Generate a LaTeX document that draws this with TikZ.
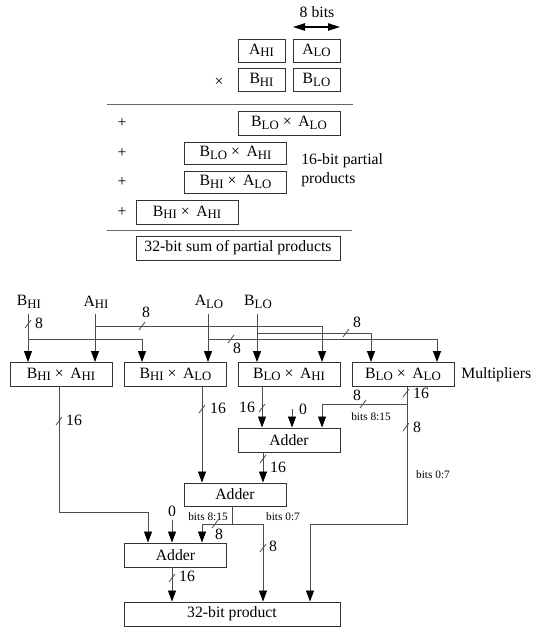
\documentclass[tikz,border=0pt]{standalone}
\usepackage{fontspec}
\setmainfont{Liberation Serif}
\usetikzlibrary{arrows.meta,calc}
\newcommand\sbs[1]{\raisebox{-0.32ex}{\fontsize{9.6}{10}\selectfont #1}}
\newcommand\mx{\kern3pt×\kern5pt}
\newcommand\busmark[2]{\draw[wire] (#1-3,#2+4) -- (#1+3,#2-4);}
\begin{document}
\begin{tikzpicture}[x=0.75pt,y=-0.75pt,
  font=\fontsize{11.8}{14}\selectfont,
  box/.style={draw=black!80, line width=0.7pt, minimum height=18pt, inner sep=0pt},
  wire/.style={draw=black!70, line width=0.6pt},
  arr/.style={wire, -{Triangle[length=8.25pt,width=6pt,color=black]}},
  small/.style={font=\fontsize{8.5}{10}\selectfont, inner sep=0pt},
  lbl/.style={inner sep=0pt},
  rule/.style={draw=black!60, line width=0.6pt}]
\useasboundingbox (0,0) rectangle (532,628);

% ---------- top: long multiplication ----------
\node[lbl] (eightbits) at (317,12) {8 bits};
\coordinate (dl) at (293,27);
\coordinate (dr) at (340,27);
\draw[line width=1.1pt, {Triangle[length=9pt,width=5.5pt]}-{Triangle[length=9pt,width=5.5pt]}] (dl) -- (dr);

\node[box, minimum width=35.25pt, minimum height=17.25pt] (tah) at (261.5,50.5) {A\sbs{HI}};
\node[box, minimum width=35.25pt, minimum height=17.25pt] (tal) at (316.5,50.5) {A\sbs{LO}};
\node[box, minimum width=35.25pt, minimum height=17.25pt] (tbh) at (261.5,80) {B\sbs{HI}};
\node[box, minimum width=35.25pt, minimum height=17.25pt] (tbl) at (316.5,80) {B\sbs{LO}};
\node[lbl] (times) at (219,82) {×};

\coordinate (r1a) at (107,104);
\coordinate (r1b) at (353,104);
\draw[rule] (r1a) -- (r1b);

\node[lbl] (p1) at (122,123) {+};
\node[box, minimum width=76.5pt] (pp1) at (289,123) {B\sbs{LO}\mx A\sbs{LO}};
\node[lbl] (p2) at (122,153) {+};
\node[box, minimum width=76pt, minimum height=16.5pt] (pp2) at (235.5,153) {B\sbs{LO}\mx A\sbs{HI}};
\node[lbl] (p3) at (122,182) {+};
\node[box, minimum width=76pt, minimum height=16.5pt] (pp3) at (235.5,182) {B\sbs{HI}\mx A\sbs{LO}};
\node[lbl] (p4) at (122,212) {+};
\node[box, minimum width=76.5pt] (pp4) at (187,212) {B\sbs{HI}\mx A\sbs{HI}};

\node[lbl, anchor=west] (pt1) at (301,161) {16-bit partial};
\node[lbl, anchor=west] (pt2) at (301,180) {products};

\coordinate (r2a) at (107,230);
\coordinate (r2b) at (352,230);
\draw[rule] (r2a) -- (r2b);

\node[box, minimum width=153pt] (sum) at (238,248) {32-bit sum of partial products};

% ---------- bottom: circuit ----------
\node[lbl] (bhi) at (29,302) {B\sbs{HI}};
\node[lbl] (ahi) at (96,302) {A\sbs{HI}};
\node[lbl] (alo) at (209,302) {A\sbs{LO}};
\node[lbl] (blo) at (258,302) {B\sbs{LO}};

\node[box, minimum width=76.5pt] (m1) at (61,374.5) {B\sbs{HI}\mx A\sbs{HI}};
\node[box, minimum width=77pt] (m2) at (175.5,374.5) {B\sbs{HI}\mx A\sbs{LO}};
\node[box, minimum width=76.5pt] (m3) at (289,374.5) {B\sbs{LO}\mx A\sbs{HI}};
\node[box, minimum width=76.5pt] (m4) at (403,374.5) {B\sbs{LO}\mx A\sbs{LO}};
\node[lbl, anchor=west] (mult) at (461,375) {Multipliers};

\node[box, minimum width=76.5pt] (a1) at (289,440) {Adder};
\node[box, minimum width=76.5pt, minimum height=17.25pt] (a2) at (235,494.5) {Adder};
\node[box, minimum width=77pt] (a3) at (175.5,555) {Adder};
\node[box, minimum width=162pt] (prod) at (232,614) {32-bit product};

% input coordinates
\coordinate (xbh) at (28,314);
\coordinate (xah) at (95,314);
\coordinate (xal) at (208,314);
\coordinate (xbl) at (257,314);
\coordinate (hb1) at (28,339);  \coordinate (hb2) at (142,339);
\coordinate (ha1) at (95,326);  \coordinate (ha2) at (322,326);
\coordinate (hl1) at (208,339); \coordinate (hl2) at (437,339);
\coordinate (hm1) at (257,333); \coordinate (hm2) at (371,333);

\draw[arr] (xbh) -- (xbh |- m1.north);
\draw[arr] (xah) -- (xah |- m1.north);
\draw[arr] (xal) -- (xal |- m2.north);
\draw[arr] (xbl) -- (xbl |- m3.north);
\draw[arr] (hb1) -- (hb2) -- (hb2 |- m2.north);
\draw[arr] (ha1) -- (ha2) -- (ha2 |- m3.north);
\draw[arr] (hl1) -- (hl2) -- (hl2 |- m4.north);
\draw[arr] (hm1) -- (hm2) -- (hm2 |- m4.north);

\busmark{28}{324}  \node[lbl] (n8a) at (39,323) {8};
\busmark{142}{326} \node[lbl] (n8b) at (146,312) {8};
\busmark{231}{339} \node[lbl] (n8c) at (237,348) {8};
\busmark{346}{333} \node[lbl] (n8d) at (357,322) {8};

% multiplier 1 output
\coordinate (o1) at (59,512); \coordinate (o1b) at (148,512);
\draw[arr] (m1.south -| o1) -- (o1) -- (o1b) -- (o1b |- a3.north);
\busmark{59}{421} \node[lbl] (n16a) at (74,420) {16};

% multiplier 2 output
\coordinate (o2) at (202,400);
\draw[arr] (m2.south -| o2) -- (o2 |- a2.north);
\busmark{202}{409} \node[lbl] (n16b) at (218,408) {16};

% multiplier 3 output
\coordinate (o3) at (262,400);
\draw[arr] (m3.south -| o3) -- (o3 |- a1.north);
\busmark{262}{408} \node[lbl] (n16c) at (247,407) {16};

% zero into adder 1
\coordinate (z1) at (292,409);
\draw[arr] (z1) -- (z1 |- a1.north);
\node[lbl] (zl1) at (303,409) {0};

% multiplier 4 output
\coordinate (o4) at (407,404); \coordinate (o4b) at (322,404);
\coordinate (o4c) at (407,524); \coordinate (o4d) at (310,524);
\draw[arr] (m4.south -| o4) -- (o4c) -- (o4d) -- (o4d |- prod.north);
\draw[arr] (o4) -- (o4b) -- (o4b |- a1.north);
\busmark{406}{393} \node[lbl] (n16d) at (421,393) {16};
\busmark{406}{427} \node[lbl] (n8e) at (417,427) {8};
\busmark{363}{404} \node[lbl] (n8f) at (357,395) {8};
\node[small] (b815a) at (371,417) {bits 8:15};
\node[small] (b07a) at (433,475) {bits 0:7};

% adder 1 -> adder 2
\coordinate (o5) at (263,470);
\draw[arr] (a1.south -| o5) -- (o5 |- a2.north);
\busmark{263}{459} \node[lbl] (n16e) at (278,467) {16};

% adder 2 outputs
\coordinate (o6) at (232,524); \coordinate (o6l) at (202,524); \coordinate (o6r) at (263,524);
\draw[wire] (a2.south -| o6) -- (o6);
\draw[arr] (o6) -- (o6l) -- (o6l |- a3.north);
\draw[arr] (o6) -- (o6r) -- (o6r |- prod.north);
\busmark{215}{524} \node[lbl] (n8g) at (219,534) {8};
\busmark{263}{548} \node[lbl] (n8h) at (273,546) {8};
\node[small] (b815b) at (208,517) {bits 8:15};
\node[small] (b07b) at (283,517) {bits 0:7};

% zero into adder 3
\coordinate (z3) at (172,520);
\draw[arr] (z3) -- (z3 |- a3.north);
\node[lbl] (zl3) at (172,511) {0};

% adder 3 -> product
\coordinate (o7) at (172,585);
\draw[arr] (a3.south -| o7) -- (o7 |- prod.north);
\busmark{172}{578} \node[lbl] (n16f) at (187,576) {16};
\end{tikzpicture}
\end{document}
